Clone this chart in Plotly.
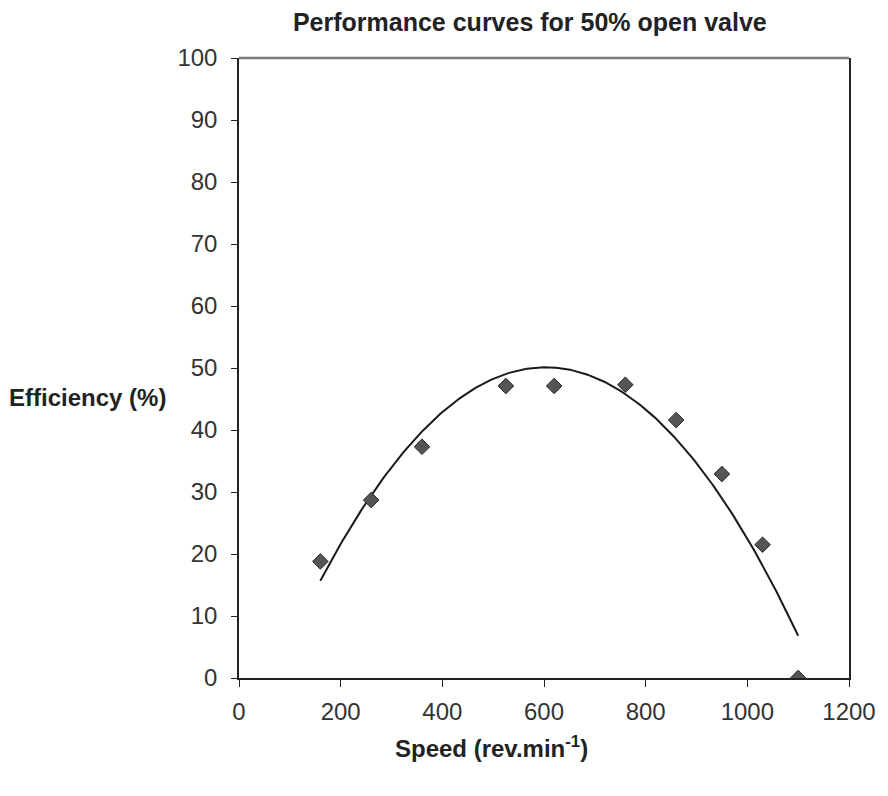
import numpy as np
import plotly.graph_objects as go

speed = [160, 260, 360, 525, 620, 760, 860, 950, 1030, 1100]
efficiency = [18.8, 28.7, 37.3, 47.1, 47.1, 47.3, 41.6, 32.9, 21.5, 0.0]

x_ticks = [0, 200, 400, 600, 800, 1000, 1200]
y_ticks = [0, 10, 20, 30, 40, 50, 60, 70, 80, 90, 100]

# order-2 polynomial trendline through the measured points
coef = np.polyfit(speed, efficiency, 2)
xs = np.linspace(min(speed), max(speed), 200)
ys = np.polyval(coef, xs)

font_family = "Liberation Sans, Arial, sans-serif"

fig = go.Figure()
fig.add_trace(go.Scatter(x=xs, y=ys, mode="lines",
                         line=dict(color="#1a1a1a", width=2), hoverinfo="skip"))
fig.add_trace(go.Scatter(x=speed, y=efficiency, mode="markers",
                         marker=dict(symbol="diamond", size=12, color="#555555",
                                     line=dict(color="#2a2a2a", width=1))))

fig.update_layout(
    width=880, height=788,
    margin=dict(l=231, r=34, t=50, b=118),
    paper_bgcolor="white", plot_bgcolor="white",
    showlegend=False,
    font=dict(family=font_family, color="#222222"),
    title=dict(text="<b>Performance curves for 50% open valve</b>",
               x=0.593, xanchor="center", y=0.982, yanchor="middle",
               font=dict(size=25, color="#222222")),
    xaxis=dict(range=[0, 1200], tickvals=x_ticks, ticks="outside", ticklen=7,
               tickcolor="#222", showline=True, linecolor="#222", linewidth=1.5,
               mirror=False, showgrid=False, zeroline=False, ticklabelstandoff=4,
               tickfont=dict(size=24, color="#333")),
    yaxis=dict(range=[0, 100], tickvals=y_ticks, ticks="outside", ticklen=6,
               tickcolor="#222", showline=True, linecolor="#222", linewidth=1.5,
               mirror=True, showgrid=False, zeroline=False, ticklabelstandoff=9,
               tickfont=dict(size=24, color="#333")),
    shapes=[dict(type="line", xref="paper", yref="paper", x0=0, x1=1, y0=1, y1=1,
                 line=dict(color="#7a7a7a", width=2.5))],
    annotations=[
        dict(text="<b>Efficiency (%)</b>", xref="paper", yref="paper",
             x=-0.38, y=0.453, xanchor="left", yanchor="middle",
             showarrow=False, font=dict(size=24, color="#222")),
        dict(text="<b>Speed (rev.min<sup>-1</sup>)</b>", xref="paper", yref="paper",
             x=0.414, y=-0.111, xanchor="center", yanchor="middle",
             showarrow=False, font=dict(size=24, color="#222")),
    ],
)

fig.write_html("out.html")
